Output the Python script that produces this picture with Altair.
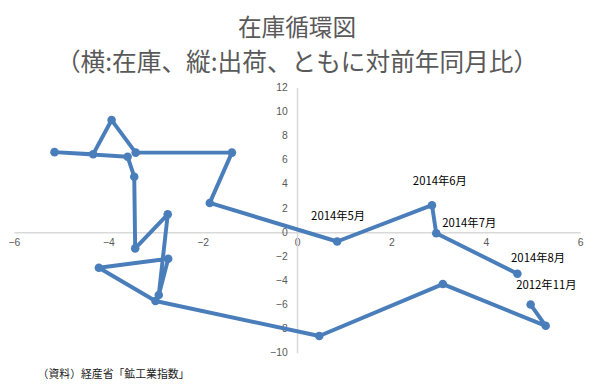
import altair as alt
import pandas as pd

# Inventory (x) and shipments (y), year-on-year %, Nov 2012 -> Aug 2014
months = ["2012年11月", "2012年12月", "2013年1月", "2013年2月", "2013年3月", "2013年4月",
          "2013年5月", "2013年6月", "2013年7月", "2013年8月", "2013年9月", "2013年10月",
          "2013年11月", "2013年12月", "2014年1月", "2014年2月", "2014年3月", "2014年4月",
          "2014年5月", "2014年6月", "2014年7月", "2014年8月"]
inventory = [4.95, 5.27, 3.09, 0.47, -3.0, -4.2, -2.73, -2.93, -2.74, -3.43, -3.45, -3.59,
             -5.14, -4.32, -3.93, -3.42, -1.38, -1.85, 0.85, 2.86, 2.95, 4.67]
shipments = [-6.0, -7.76, -4.3, -8.6, -5.7, -2.95, -2.2, -5.2, 1.48, -1.34, 4.6, 6.25,
             6.64, 6.47, 9.3, 6.6, 6.6, 2.43, -0.77, 2.24, -0.08, -3.44]
labelled = ["2012年11月", "2014年5月", "2014年6月", "2014年7月", "2014年8月"]
x_ticks = [-6, -4, -2, 0, 2, 4, 6]
y_ticks = [-10, -8, -6, -4, -2, 0, 2, 4, 6, 8, 10, 12]

df = pd.DataFrame({"month": months, "inv": inventory, "ship": shipments,
                   "order": list(range(len(months)))})

W, H = 574, 269
BLUE = "#4a7ebb"
GRAY = "#595959"
FONT_JP = "Noto Sans CJK JP"

xs = alt.Scale(domain=[-6, 6], nice=False, zero=False)
ys = alt.Scale(domain=[-10, 12], nice=False, zero=False)

x_enc = alt.X("inv:Q", scale=xs, title=None,
              axis=alt.Axis(values=x_ticks, tickCount=len(x_ticks), grid=False, ticks=False,
                            domainColor="#d9d9d9", domainWidth=1.5, labelColor=GRAY,
                            labelFontSize=10.5, labelFont="Liberation Sans", labelPadding=5,
                            labelFlush=False, labelOverlap=False, labelSeparation=0,
                            offset=-(H * 10 / 22)))
y_enc = alt.Y("ship:Q", scale=ys, title=None,
              axis=alt.Axis(values=y_ticks, tickCount=len(y_ticks), grid=False, ticks=False,
                            domainColor="#d9d9d9", domainWidth=1.5, labelColor=GRAY,
                            labelFontSize=10.5, labelFont="Liberation Sans", labelPadding=10,
                            labelFlush=False, labelOverlap=False, labelSeparation=0,
                            offset=-(W / 2)))

base = alt.Chart(df)
line = base.mark_line(color=BLUE, strokeWidth=4, strokeJoin="round").encode(
    x=x_enc, y=y_enc, order="order:Q")
pts = base.mark_circle(color=BLUE, size=75, opacity=1).encode(x="inv:Q", y="ship:Q")

label_offsets = {
    "2012年11月": (16, -19, "center"),
    "2014年5月": (1, -25, "center"),
    "2014年6月": (8, -23, "center"),
    "2014年7月": (6, -9, "left"),
    "2014年8月": (21, -15, "center"),
}
label_layers = []
for m in labelled:
    dx, dy, al = label_offsets[m]
    label_layers.append(
        base.transform_filter(alt.datum.month == m).mark_text(
            font=FONT_JP, fontSize=11.5, color="#000000", dx=dx, dy=dy, align=al,
            baseline="middle").encode(x="inv:Q", y="ship:Q", text="month:N"))

note = alt.Chart(pd.DataFrame({"t": ["（資料）経産省「鉱工業指数」"]})).mark_text(
    font=FONT_JP, fontSize=11, color="#222222", align="left", baseline="middle").encode(
    x=alt.value(24), y=alt.value(291), text="t:N")

chart = alt.layer(line, pts, *label_layers, note).properties(
    width=W, height=H,
    autosize=alt.AutoSizeParams(type="none"),
    padding={"left": 6, "top": 78, "right": 12, "bottom": 28},
    title=alt.TitleParams(
        text="在庫循環図",
        subtitle="（横:在庫、縦:出荷、ともに対前年同月比）",
        fontSize=24, font=FONT_JP, fontWeight="normal", color=GRAY,
        subtitleFontSize=25, subtitleFont=FONT_JP, subtitleFontWeight="normal",
        subtitleColor=GRAY, subtitlePadding=10,
        anchor="middle", offset=7),
).configure_view(stroke=None)

chart.save("out.html", embed_options={"renderer": "svg", "actions": False})
